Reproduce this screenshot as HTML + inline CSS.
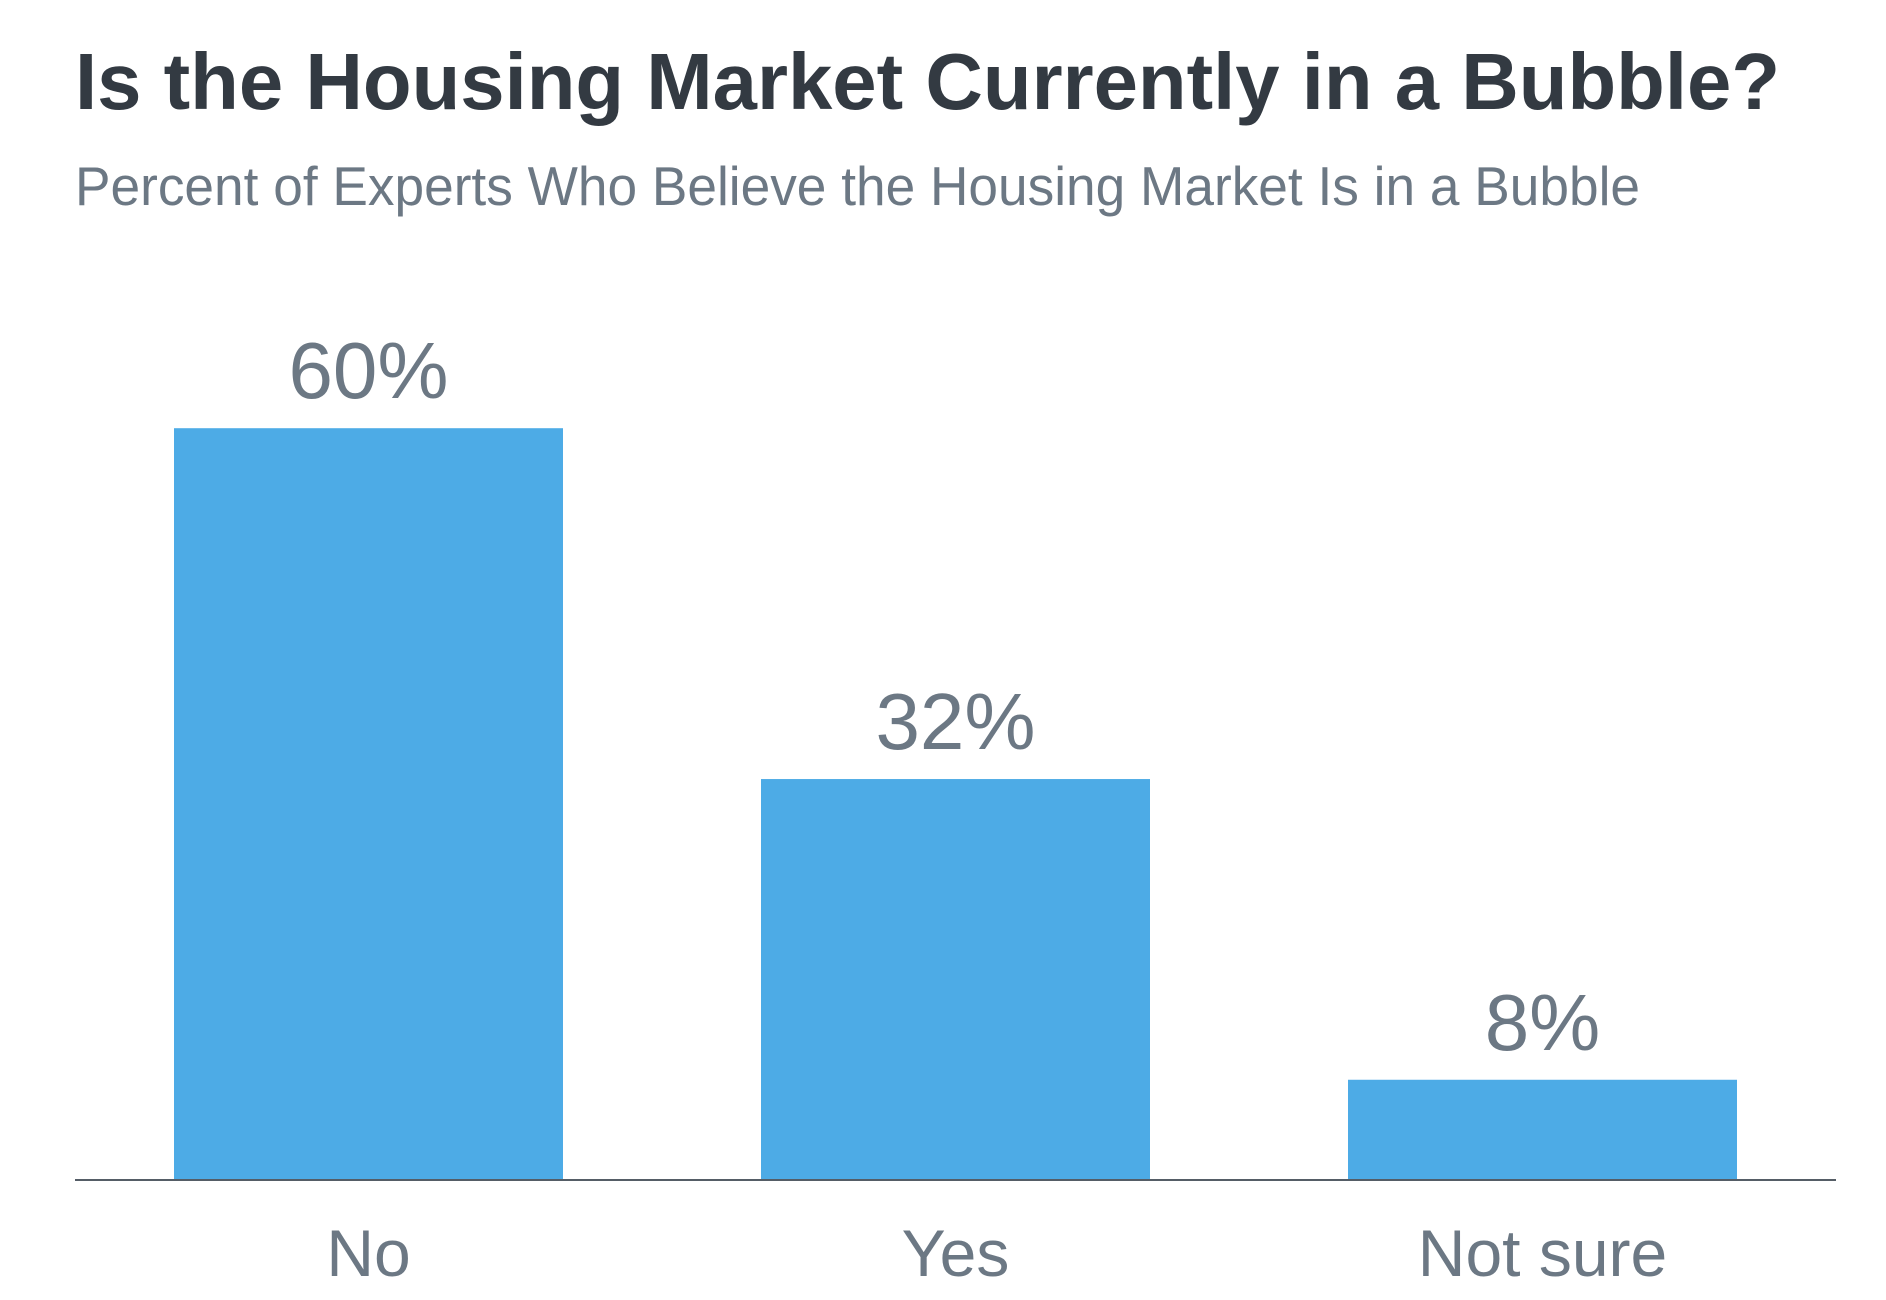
<!DOCTYPE html>
<html><head><meta charset="utf-8"><style>
html,body{margin:0;padding:0;background:#fff;}
svg{display:block;}
</style></head><body>
<svg id="chart" width="1886" height="1300" viewBox="0 0 1886 1300" xmlns="http://www.w3.org/2000/svg" font-family="Liberation Sans, Arial, sans-serif">
<text x="75" y="109" font-size="80" font-weight="bold" fill="#333a42" textLength="1705" lengthAdjust="spacingAndGlyphs">Is the Housing Market Currently in a Bubble?</text>
<text x="75" y="205" font-size="55" fill="#6c7884" textLength="1565" lengthAdjust="spacingAndGlyphs">Percent of Experts Who Believe the Housing Market Is in a Bubble</text>
<g id="bars"></g>
<line x1="75" y1="1180" x2="1836" y2="1180" stroke="#555d66" stroke-width="2"/>
</svg>
<script>
const categories = ["No", "Yes", "Not sure"];
const values = [60, 32, 8];
const valueLabels = ["60%", "32%", "8%"];

const plotLeft = 75, plotRight = 1836, baseY = 1180, pxPerUnit = 12.53;
const band = (plotRight - plotLeft) / categories.length;
const barW = 389;
function xCenter(i){ return plotLeft + band * (i + 0.5); }
function yScale(v){ return baseY - v * pxPerUnit; }

const ns = "http://www.w3.org/2000/svg";
const g = document.getElementById("bars");
categories.forEach((c, i) => {
  const cx = xCenter(i);
  const r = document.createElementNS(ns, "rect");
  
  
  r.setAttribute("x", cx - barW/2);
  r.setAttribute("y", yScale(values[i]));
  r.setAttribute("width", barW);
  r.setAttribute("height", baseY - yScale(values[i]));
  r.setAttribute("fill", "#4dabe6");
  g.appendChild(r);

  const t = document.createElementNS(ns, "text");
  
  
  t.setAttribute("x", cx);
  t.setAttribute("y", yScale(values[i]) - 30);
  t.setAttribute("text-anchor", "middle");
  t.setAttribute("font-size", "80");
  t.setAttribute("fill", "#6c7884");
  t.textContent = valueLabels[i];
  g.appendChild(t);

  const l = document.createElementNS(ns, "text");
  
  
  l.setAttribute("x", cx);
  l.setAttribute("y", 1276);
  l.setAttribute("text-anchor", "middle");
  l.setAttribute("font-size", "66");
  l.setAttribute("fill", "#6c7884");
  l.textContent = c;
  g.appendChild(l);
});
</script>
</body></html>
